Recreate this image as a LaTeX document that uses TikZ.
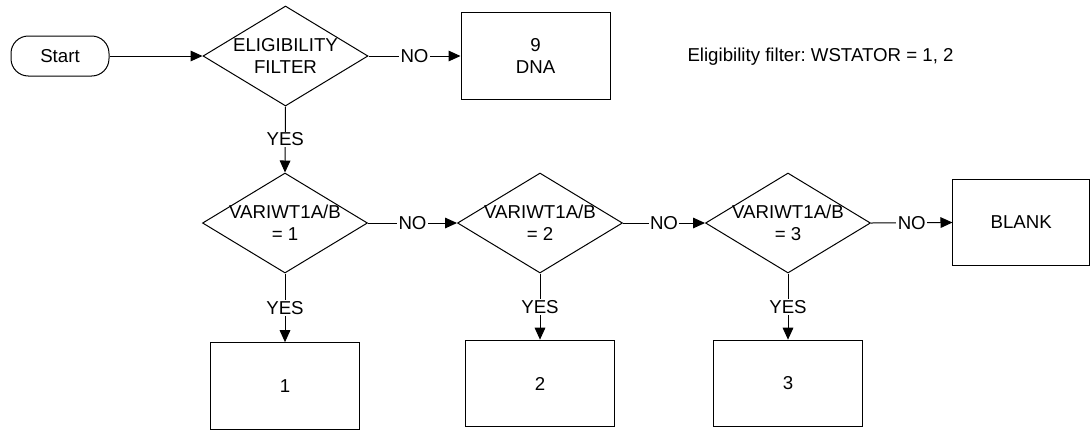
\documentclass[tikz,border=0pt]{standalone}
\usepackage{fontspec}
\setmainfont{Liberation Sans}
\usetikzlibrary{shapes.geometric,arrows.meta}
\frenchspacing
\begin{document}
\begin{tikzpicture}[x=0.75pt,y=-0.75pt,
  every node/.style={font=\fontsize{14}{16.5}\selectfont},
  line width=0.75pt,
  dia/.style={draw,shape=diamond,minimum width=123.75pt,minimum height=75pt,inner sep=0pt},
  boxnode/.style={draw,rectangle,minimum width=111.75pt,minimum height=65pt,inner sep=0pt,align=center},
  termnode/.style={draw,rectangle,rounded corners=13pt,minimum width=73.5pt,minimum height=30pt,inner sep=0pt},
  txt/.style={align=center,inner sep=0pt},
  lbl/.style={fill=white,inner sep=1pt},
  arr/.style={-{Triangle[length=9pt,width=8pt]}}
]
\useasboundingbox (0,0) rectangle (1091,430);

% nodes
\node[termnode] (start) at (60,56) {Start};
\node[dia] (d1) at (285.5,56) {};
\node[txt] (d1t) at (d1.center) {ELIGIBILITY\\FILTER};
\node[boxnode] (dna) at (535.5,56) {9\\DNA};
\node[inner sep=0pt,anchor=base west] (note) at (687,61.5) {Eligibility filter: WSTATOR = 1, 2};

\node[dia] (d2) at (285,223) {};
\node[txt] (d2t) at (d2.center) {VARIWT1A/B\\= 1};
\node[dia] (d3) at (540,223) {};
\node[txt] (d3t) at (d3.center) {VARIWT1A/B\\= 2};
\node[dia] (d4) at (788,223) {};
\node[txt] (d4t) at (d4.center) {VARIWT1A/B\\= 3};
\node[boxnode,minimum width=102.4pt] (blank) at (1021.25,222.5) {BLANK};

\node[boxnode] (b1) at (285,386) {1};
\node[boxnode] (b2) at (540,383.5) {2};
\node[boxnode] (b3) at (788,383.5) {3};

% connectors
\draw[arr] (start.east) -- (d1.west);
\draw[arr] (d1.east) -- node[lbl] {NO} (dna.west);
\draw[arr] (d1.south) -- node[lbl] {YES} (d2.north);
\draw[arr] (d2.east) -- node[lbl] {NO} (d3.west);
\draw[arr] (d3.east) -- node[lbl] {NO} (d4.west);
\draw[arr] (d4.east) -- node[lbl] {NO} (blank.west);
\draw[arr] (d2.south) -- node[lbl] {YES} (b1.north);
\draw[arr] (d3.south) -- node[lbl] {YES} (b2.north);
\draw[arr] (d4.south) -- node[lbl] {YES} (b3.north);
\end{tikzpicture}
\end{document}
